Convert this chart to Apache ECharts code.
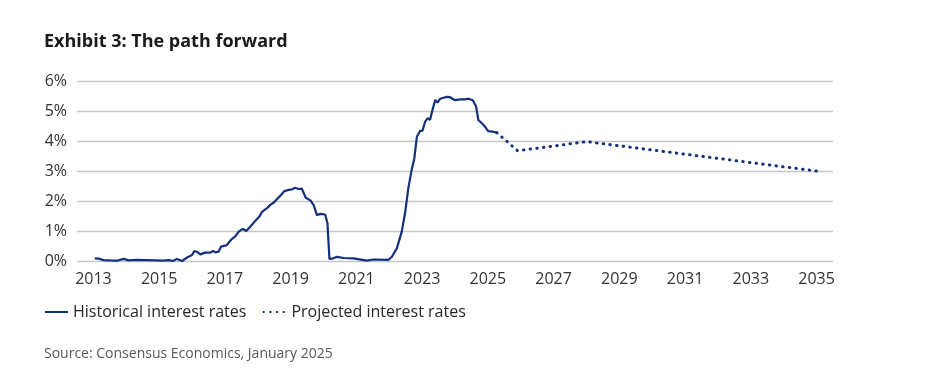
<!DOCTYPE html>
<html>
<head>
<meta charset="utf-8">
<script src="https://cdn.jsdelivr.net/npm/echarts@6/dist/echarts.min.js"></script>
<style>
html,body{margin:0;padding:0;background:#fff;}
#chart{width:936px;height:386px;}
</style>
</head>
<body>
<div id="chart"></div>
<script>
// ---- Data ----
const xTickYears = [2013, 2015, 2017, 2019, 2021, 2023, 2025, 2027, 2029, 2031, 2033, 2035];
const yTickValues = [0, 1, 2, 3, 4, 5, 6];

const histX = [2013.04, 2013.16, 2013.31, 2013.5, 2013.72, 2013.92, 2014.07, 2014.3, 2014.6, 2014.9,
  2015.1, 2015.3, 2015.42, 2015.54, 2015.70, 2015.85, 2016.0, 2016.07, 2016.15, 2016.25,
  2016.40, 2016.56, 2016.64, 2016.71, 2016.81, 2016.88, 2017.06, 2017.18, 2017.32, 2017.42,
  2017.54, 2017.65, 2017.77, 2017.92, 2018.05, 2018.13, 2018.28, 2018.38, 2018.48, 2018.58,
  2018.68, 2018.81, 2018.94, 2019.04, 2019.14, 2019.24, 2019.34, 2019.46, 2019.60, 2019.70,
  2019.80, 2019.90, 2020.05, 2020.12, 2020.18, 2020.30, 2020.41, 2020.61, 2020.91, 2021.32,
  2021.52, 2021.98, 2022.08, 2022.23, 2022.38, 2022.48, 2022.58, 2022.68, 2022.76, 2022.84,
  2022.94, 2023.01, 2023.09, 2023.17, 2023.24, 2023.32, 2023.40, 2023.47, 2023.55, 2023.75,
  2023.85, 2024.00, 2024.16, 2024.31, 2024.41, 2024.54, 2024.64, 2024.71, 2024.81, 2024.91,
  2025.01, 2025.15, 2025.27];
const histY = [0.09, 0.08, 0.03, 0.02, 0.01, 0.07, 0.02, 0.04, 0.03, 0.02,
  0.01, 0.03, 0.00, 0.07, 0.00, 0.12, 0.20, 0.33, 0.31, 0.22,
  0.28, 0.28, 0.34, 0.29, 0.31, 0.48, 0.53, 0.70, 0.83, 0.98,
  1.07, 1.00, 1.14, 1.33, 1.48, 1.64, 1.76, 1.87, 1.94, 2.06,
  2.17, 2.33, 2.37, 2.39, 2.44, 2.40, 2.41, 2.11, 2.02, 1.86,
  1.53, 1.57, 1.55, 1.26, 0.07, 0.09, 0.14, 0.10, 0.09, 0.01,
  0.05, 0.04, 0.14, 0.42, 0.98, 1.59, 2.42, 3.03, 3.40, 4.14,
  4.34, 4.34, 4.64, 4.76, 4.70, 5.06, 5.37, 5.28, 5.41, 5.47,
  5.46, 5.36, 5.39, 5.39, 5.41, 5.36, 5.16, 4.70, 4.60, 4.48,
  4.33, 4.31, 4.28];

const projX = [2025.27, 2025.9, 2026, 2027, 2028, 2029, 2030, 2031, 2032, 2033, 2034, 2035];
const projY = [4.28, 3.68, 3.69, 3.83, 3.98, 3.84, 3.70, 3.56, 3.42, 3.28, 3.14, 3.00];

const titleText = 'Exhibit 3: The path forward';
const sourceText = 'Source: Consensus Economics, January 2025';
const seriesNames = ['Historical interest rates', 'Projected interest rates'];

// ---- Chart ----
const zip = (xs, ys) => xs.map((x, i) => [x, ys[i]]);
const lineColor = '#13307c';
const font = '"Open Sans", "Noto Sans", sans-serif';

const chart = echarts.init(document.getElementById('chart'), null, {renderer: 'canvas'});
chart.setOption({
  animation: false,
  backgroundColor: '#ffffff',
  textStyle: {fontFamily: font},
  title: [
    {text: titleText, left: 39, top: 28,
     textStyle: {fontFamily: font, fontSize: 18, fontWeight: 'bold', color: '#1a1a1a'}},
    {text: sourceText, left: 39, top: 342,
     textStyle: {fontFamily: font, fontSize: 14, fontWeight: 'normal', color: '#595959'}}
  ],
  legend: {
    left: 39, top: 299,
    itemWidth: 23, itemHeight: 10, itemGap: 16,
    itemStyle: {opacity: 0},
    textStyle: {fontFamily: font, fontSize: 16, color: '#262626'},
    data: seriesNames
  },
  grid: {left: 77, right: 103, top: 81, bottom: 125, containLabel: false},
  xAxis: {
    type: 'value', min: 2012.5, max: 2035.5,
    axisLine: {show: false},
    axisTick: {show: false},
    splitLine: {show: false},
    axisLabel: {
      customValues: xTickYears,
      margin: 10,
      fontFamily: font, fontSize: 16, color: '#333333',
      formatter: v => String(Math.round(v))
    }
  },
  yAxis: {
    type: 'value', min: 0, max: 6, interval: 1,
    axisLine: {show: false},
    axisTick: {show: false},
    splitLine: {show: true, lineStyle: {color: '#c6c6c6', width: 1.3}},
    axisLabel: {
      customValues: yTickValues,
      margin: 10,
      fontFamily: font, fontSize: 16, color: '#333333',
      formatter: v => v + '%'
    }
  },
  series: [
    {
      name: seriesNames[0], type: 'line', data: zip(histX, histY),
      showSymbol: false, symbol: 'none', smooth: false,
      lineStyle: {color: lineColor, width: 2.2},
      itemStyle: {color: lineColor}
    },
    {
      name: seriesNames[1], type: 'line', data: zip(projX, projY),
      showSymbol: false, symbol: 'none',
      lineStyle: {color: lineColor, width: 3, type: [0.5, 6.2], cap: 'round'},
      itemStyle: {color: lineColor}
    }
  ]
});
</script>
</body>
</html>
